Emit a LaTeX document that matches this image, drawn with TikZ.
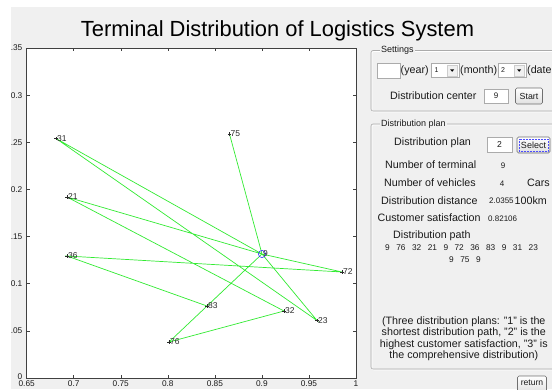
\documentclass[tikz,border=0pt]{standalone}
\usepackage{fontspec}
\setmainfont{Liberation Sans}
\definecolor{win}{HTML}{F0F0F0}
\definecolor{gline}{RGB}{50,235,50}
\definecolor{axc}{HTML}{404040}
\definecolor{frm}{HTML}{ABABAB}
\definecolor{btnborder}{HTML}{707070}
\definecolor{txt}{HTML}{1A1A1A}
\definecolor{ptc}{HTML}{2A2A2A}
\newcommand\pgap{\hspace{6.5pt}}
\begin{document}
\begin{tikzpicture}[x=1pt,y=-1pt,
  lbl/.style={font=\fontsize{10.7}{12}\selectfont, text=txt, inner sep=0, anchor=west},
  small/.style={font=\fontsize{8}{9.6}\selectfont, text=txt, inner sep=0},
  grp/.style={font=\fontsize{9}{10}\selectfont, text=txt, fill=win, inner xsep=1pt, inner ysep=0, anchor=west},
  ticklbl/.style={font=\fontsize{8.3}{10}\selectfont, inner sep=0, text=txt},
  ptlbl/.style={font=\fontsize{8.5}{10}\selectfont, inner sep=0, anchor=west, text=ptc, xshift=1pt},
  edge/.style={draw=gline, line width=0.7pt},
  editbox/.style={draw=frm, fill=white, line width=0.6pt},
  btn/.style={draw=btnborder, line width=0.6pt, rounded corners=1.5pt, top color=white, bottom color=black!12},
  frame/.style={draw=frm, line width=0.6pt, rounded corners=2pt}
]
\useasboundingbox (0,0) rectangle (552,389);
\fill[white] (0,0) rectangle (552,389);
\fill[win] (11,7) rectangle (552,389);

% title
\node[font=\fontsize{21.9}{24}\selectfont, anchor=base, inner sep=0, text=black] (title) at (277.5,36.7) {Terminal Distribution of Logistics System};

% plot area
\fill[white] (26.7,48) rectangle (356,378);

% data points
\coordinate (n31) at (56,138.5);
\coordinate (n21) at (67,197);
\coordinate (n36) at (67,256);
\coordinate (n75) at (229.5,134);
\coordinate (n9)  at (262,254);
\coordinate (n72) at (342,272);
\coordinate (n83) at (207,306);
\coordinate (n32) at (284,311);
\coordinate (n23) at (317,320.5);
\coordinate (n76) at (169,342);

% route 9 76 32 21 9 72 36 83 9 31 23 9 75 9
\draw[edge] (n9) -- (n76) -- (n32) -- (n21) -- (n9) -- (n72) -- (n36) -- (n83) -- (n9) -- (n31) -- (n23) -- (n9) -- (n75) -- (n9);

% markers and labels
\foreach \i in {31,21,36,75,72,83,32,23,76}{
  \draw[ptc, line width=0.45pt] (n\i) ++(-1.6,0) -- ++(3.2,0) (n\i) ++(0,-1.6) -- ++(0,3.2);
  \node[ptlbl] (l\i) at (n\i) {\i};
}
\draw[blue!80, line width=0.6pt] (n9) circle (3.6);
\node[ptlbl] (l9) at (n9) {9};

% axes frame and ticks
\draw[axc, line width=0.6pt] (26.7,48) rectangle (356,378);
\foreach \k/\t in {0/0.65,1/0.7,2/0.75,3/0.8,4/0.85,5/0.9,6/0.95,7/1}{
  \draw[axc, line width=0.5pt] (26.7+\k*47.04,378) -- ++(0,-3.3);
  \draw[axc, line width=0.5pt] (26.7+\k*47.04,48) -- ++(0,3.3);
  \node[ticklbl, anchor=north] (xt\k) at (26.7+\k*47.04,380.8) {\t};
}
\foreach \k/\t in {1/0.05,2/0.1,3/0.15,4/0.2,5/0.25,6/0.3,7/0.35}{
  \draw[axc, line width=0.5pt] (26.7,378-\k*47.14) -- ++(3.3,0);
  \draw[axc, line width=0.5pt] (356,378-\k*47.14) -- ++(-3.3,0);
  \node[ticklbl, anchor=east] (yt\k) at (22.5,378-\k*47.14) {\t};
}
\draw[axc, line width=0.5pt] (26.7,378) -- ++(3.3,0);
\draw[axc, line width=0.5pt] (356,378) -- ++(-3.3,0);
\node[ticklbl, anchor=south east] (yt0) at (22.5,380.2) {0};
\fill[white] (0,0) rectangle (11,389);
\fill[white] (0,0) rectangle (552,7);

% Settings group
\draw[frame, white] (561,51.5) -- (372,51.5) -- (372,112) -- (561,112);
\draw[frame] (560,50.5) -- (371,50.5) -- (371,111) -- (560,111);
\node[grp] (gset) at (380,50.5) {Settings};

\draw[editbox] (377.5,63) rectangle (400,78);
\node[lbl] (year) at (400.5,70.5) {(year)};
\draw[editbox] (431.5,63.5) rectangle (459,77.5);
\node[small, font=\fontsize{7}{8}\selectfont] (dd1) at (436.5,70.5) {1};
\draw[draw=frm!60, fill=win, line width=0.4pt] (447,65) rectangle (457.5,76);
\fill[black] (450.2,69.4) -- (454.2,69.4) -- (452.2,71.8) -- cycle;
\node[lbl] (month) at (460,70.5) {(month)};
\draw[editbox] (498,63.5) rectangle (526,77.5);
\node[small, font=\fontsize{7}{8}\selectfont] (dd2) at (503,70.5) {2};
\draw[draw=frm!60, fill=win, line width=0.4pt] (514,65) rectangle (524.5,76);
\fill[black] (517.2,69.4) -- (521.2,69.4) -- (519.2,71.8) -- cycle;
\node[lbl] (date) at (527,70.5) {(date};

\node[lbl] (dc) at (390,96) {Distribution center};
\draw[editbox] (484,89) rectangle (508,103);
\node[small] (dcv) at (496,96) {9};
\draw[btn] (515.5,88) rectangle (542.5,104);
\node[small, font=\fontsize{8.8}{10}\selectfont] (start) at (529,96) {Start};

% Distribution plan group
\draw[frame, white] (561,125) -- (372,125) -- (372,370) -- (561,370);
\draw[frame] (560,124) -- (371,124) -- (371,369) -- (560,369);
\node[grp] (gplan) at (380,124) {Distribution plan};

\node[lbl] (dp) at (394,143) {Distribution plan};
\draw[editbox] (487,137) rectangle (512,152);
\node[small, font=\fontsize{8.6}{10}\selectfont] (dpv) at (499.5,144.5) {2};
\draw[btn] (517,137) rectangle (550,153);
\draw[blue!70, densely dotted, line width=0.5pt] (519,139) rectangle (548,151);
\node[small, font=\fontsize{9}{10}\selectfont] (select) at (533.5,145) {Select};

\node[lbl] (nt) at (385,165) {Number of terminal};
\node[small] (ntv) at (503,165.5) {9};
\node[lbl] (nv) at (384,183) {Number of vehicles};
\node[small] (nvv) at (502,183.5) {4};
\node[lbl] (cars) at (527,183) {Cars};
\node[lbl] (dd) at (381,200.7) {Distribution distance};
\node[small, anchor=west] (ddv) at (489,201.2) {2.0355};
\node[lbl] (km) at (514.5,200.7) {100km};
\node[lbl] (cs) at (377.5,218) {Customer satisfaction};
\node[small, anchor=west] (csv) at (488,218.5) {0.82106};
\node[lbl] (dpath) at (393,236) {Distribution path};
\node[small, font=\fontsize{8.3}{10}\selectfont, anchor=west] (path1) at (385,247.7) {9\pgap76\pgap32\pgap21\pgap9\pgap72\pgap36\pgap83\pgap9\pgap31\pgap23};
\node[small, font=\fontsize{8.3}{10}\selectfont, anchor=west] (path2) at (449,260) {9\pgap75\pgap9};

\node[font=\fontsize{10.7}{11.5}\selectfont, text=txt, inner sep=0, align=center] (note) at (463.8,338.9)
  {(Three distribution plans: "1" is the\\shortest distribution path, "2" is the\\highest customer satisfaction, "3" is\\the comprehensive distribution)};

\draw[btn] (517.5,376) rectangle (546.5,393);
\node[small, font=\fontsize{8.6}{10}\selectfont] (ret) at (532,382.5) {return};
\end{tikzpicture}
\end{document}
